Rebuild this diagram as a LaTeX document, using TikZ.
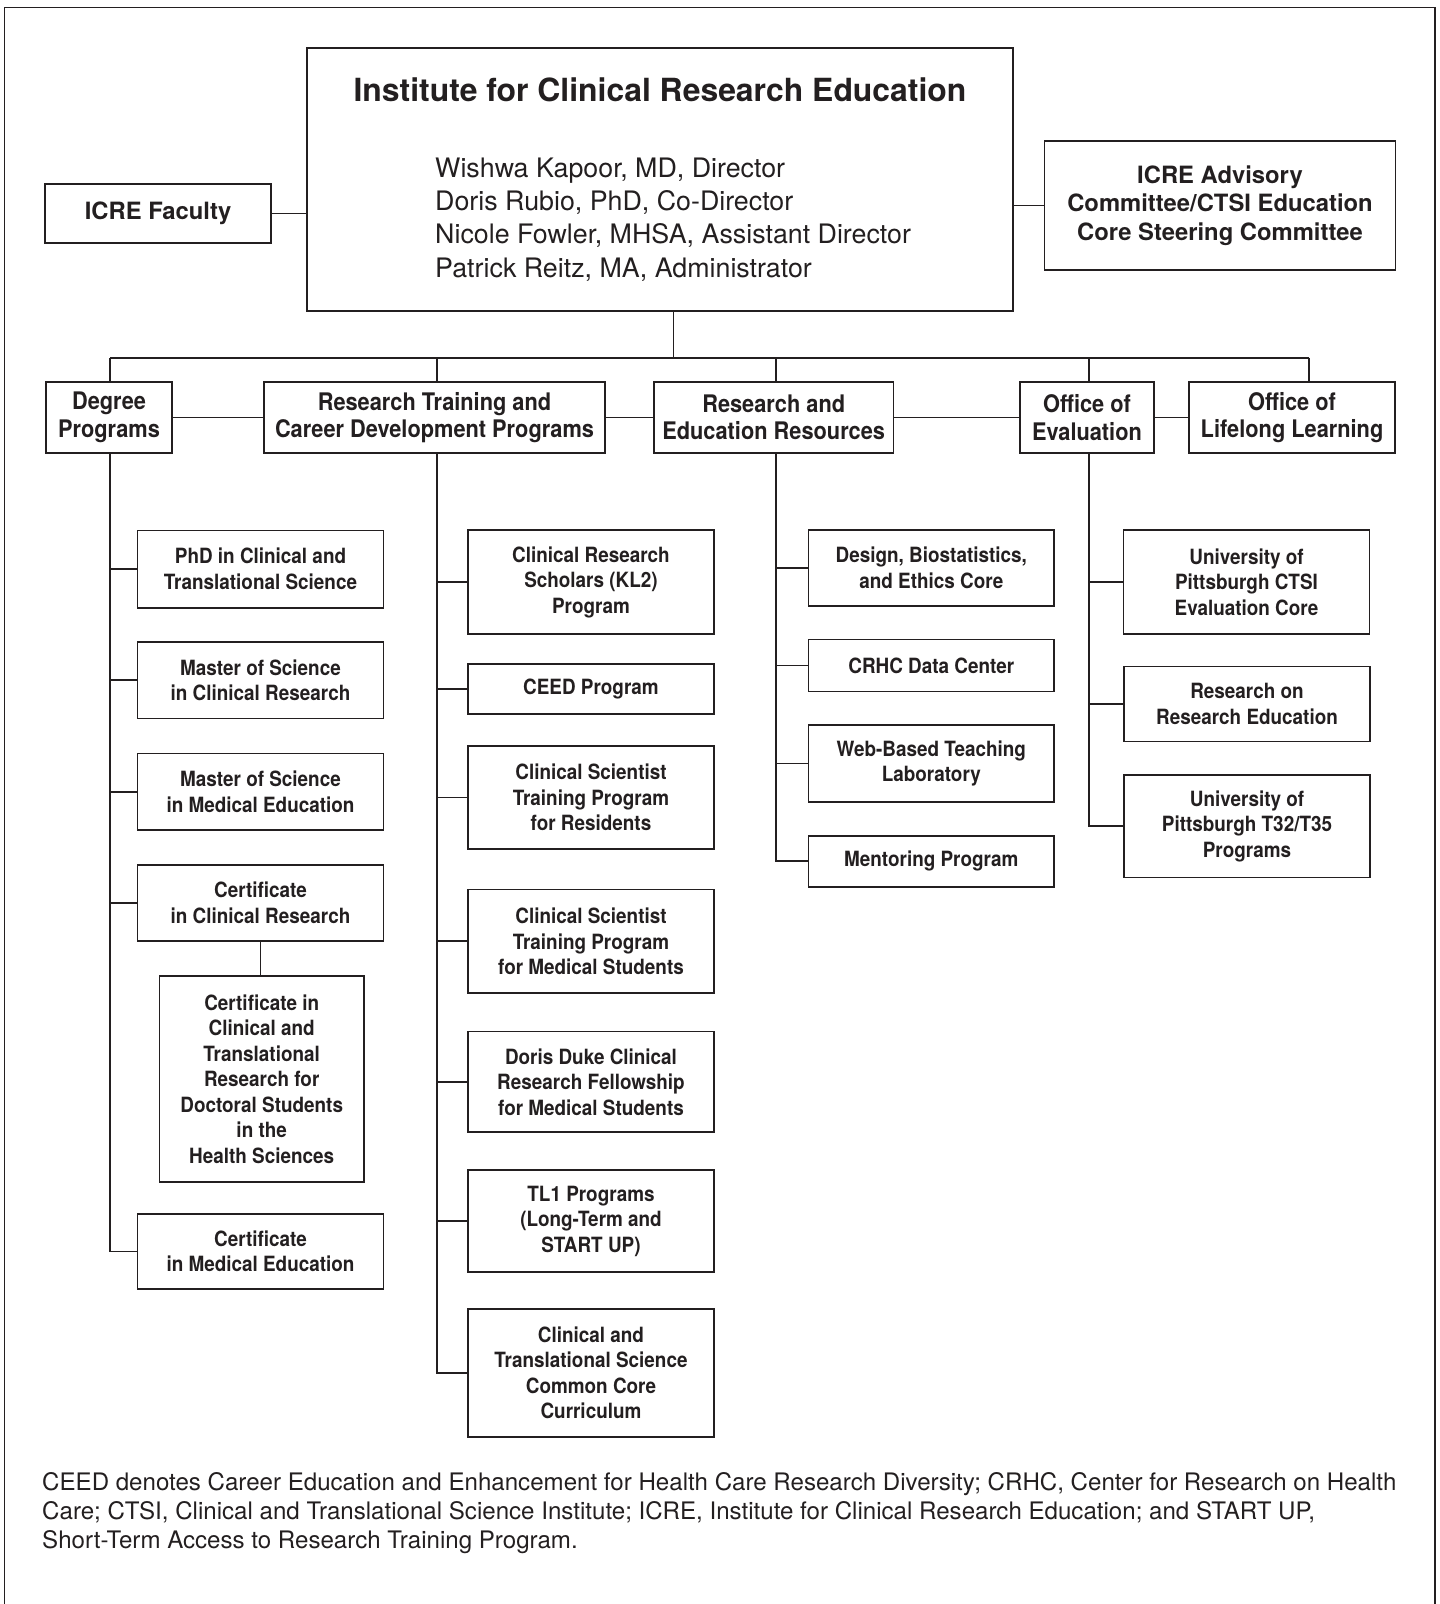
\documentclass[tikz,border=0pt]{standalone}
\usepackage{fontspec}
\setmainfont{TeX Gyre Heros}
\newfontfamily\condf[FakeStretch=0.9]{TeX Gyre Heros}
\definecolor{ink}{RGB}{35,31,32}
\begin{document}
\begin{tikzpicture}[x=1pt,y=-1pt,
  every node/.style={text=ink},
  box/.style={draw=ink, line width=1.5pt, inner sep=0pt, align=center,
    font=\condf\bfseries\fontsize{21}{25.5}\selectfont},
  boxtwo/.style={box, font=\condf\bfseries\fontsize{24.2}{27.5}\selectfont},
  boxwide/.style={box, font=\bfseries\fontsize{23.8}{28.5}\selectfont},
  conn/.style={draw=ink, line width=1.8pt},
]
\useasboundingbox (0,0) rectangle (1440,1604);
% frame
\draw[ink, line width=1.4pt] (4.6,1604) -- (4.6,7.5) -- (1435,7.5) -- (1435,1604);

% top level
\node[draw=ink, line width=1.5pt, minimum width=706pt, minimum height=263pt, inner sep=0pt] (main) at (660,179.4) {};
\node[font=\bfseries\fontsize{31.9}{38}\selectfont, inner sep=0pt] (title) at (660,90) {Institute for Clinical Research Education};
\node[anchor=west, align=left, inner sep=0pt, font=\fontsize{26.8}{33.3}\selectfont] (names) at (435,219.5)
  {Wishwa Kapoor, MD, Director\\Doris Rubio, PhD, Co-Director\\Nicole Fowler, MHSA, Assistant Director\\Patrick Reitz, MA, Administrator};
\node[boxwide, minimum width=226pt, minimum height=59pt] (fac) at (158,213.5) {ICRE Faculty};
\node[boxwide, minimum width=351pt, minimum height=129pt] (adv) at (1220,205.5) {ICRE Advisory\\Committee/CTSI Education\\Core Steering Committee};
\draw[conn] (fac.east) -- (fac.east -| main.west);
\draw[conn] (adv.west -| main.east) -- (adv.west);

% second row
\node[boxtwo, minimum width=126pt, minimum height=71.3pt] (deg) at (109,417.4) {Degree\\Programs};
\node[boxtwo, minimum width=341pt, minimum height=71.3pt] (rt) at (434.5,417.4) {Research Training and\\Career Development Programs};
\node[boxtwo, minimum width=239.5pt, minimum height=71.3pt] (re) at (773.7,417.4) {Research and\\Education Resources};
\node[boxtwo, minimum width=134pt, minimum height=71.3pt] (ev) at (1087,417.4) {Office of\\Evaluation};
\node[boxtwo, minimum width=206pt, minimum height=71.3pt] (ll) at (1292,417.4) {Office of\\Lifelong Learning};

\coordinate (bus) at (673.5,357.7);
\coordinate (cD) at (110,0);
\coordinate (cR) at (437,0);
\coordinate (cE) at (776,0);
\coordinate (cV) at (1089,0);
\coordinate (cL) at (1309,0);
\draw[conn] (bus |- main.south) -- (bus);
\draw[conn] (cD |- bus) -- (cL |- bus);
\foreach \c/\n in {cD/deg, cR/rt, cE/re, cV/ev, cL/ll}
  \draw[conn] (\c |- bus) -- (\c |- \n.north);
\draw[conn] (deg.east) -- (rt.west);
\draw[conn] (rt.east) -- (re.west);
\draw[conn] (re.east) -- (ev.west);
\draw[conn] (ev.east) -- (ll.west);

% degree programs
\node[box, minimum width=245.7pt, minimum height=77.5pt] (phd) at (260.5,569) {PhD in Clinical and\\Translational Science};
\node[box, minimum width=245.7pt, minimum height=76.6pt] (mscr) at (260.5,680.3) {Master of Science\\in Clinical Research};
\node[box, minimum width=245.7pt, minimum height=76.4pt] (msme) at (260.5,791.8) {Master of Science\\in Medical Education};
\node[box, minimum width=245.7pt, minimum height=76pt] (certcr) at (260.5,903) {Certificate\\in Clinical Research};
\node[box, minimum width=204.7pt, minimum height=206pt] (certct) at (261.7,1079) {Certificate in\\Clinical and\\Translational\\Research for\\Doctoral Students\\in the\\Health Sciences};
\node[box, minimum width=245.7pt, minimum height=75pt] (certme) at (260.5,1251.5) {Certificate\\in Medical Education};
\draw[conn] (cD |- deg.south) |- (certme.west);
\foreach \n in {phd, mscr, msme, certcr}
  \draw[conn] (cD |- \n.west) -- (\n.west);
\draw[conn] (certcr.south) -- (certcr.south |- certct.north);

% research training
\node[box, minimum width=246pt, minimum height=104pt] (kl2) at (591,582) {Clinical Research\\Scholars (KL2)\\Program};
\node[box, minimum width=246pt, minimum height=50pt] (ceed) at (591,689) {CEED Program};
\node[box, minimum width=246pt, minimum height=103pt] (cstr) at (591,797.5) {Clinical Scientist\\Training Program\\for Residents};
\node[box, minimum width=246pt, minimum height=103.4pt] (cstm) at (591,941.3) {Clinical Scientist\\Training Program\\for Medical Students};
\node[box, minimum width=246pt, minimum height=100.5pt] (ddcr) at (591,1081.8) {Doris Duke Clinical\\Research Fellowship\\for Medical Students};
\node[box, minimum width=246pt, minimum height=102pt] (tl1) at (591,1221) {TL1 Programs\\(Long-Term and\\START UP)};
\node[box, minimum width=246pt, minimum height=128pt] (ctsc) at (591,1373) {Clinical and\\Translational Science\\Common Core\\Curriculum};
\draw[conn] (cR |- rt.south) |- (ctsc.west);
\foreach \n in {kl2, ceed, cstr, cstm, ddcr, tl1}
  \draw[conn] (cR |- \n.west) -- (\n.west);

% resources
\node[box, minimum width=245.4pt, minimum height=75.7pt] (dbe) at (931.3,567.9) {Design, Biostatistics,\\and Ethics Core};
\node[box, minimum width=245.4pt, minimum height=51.8pt] (crhc) at (931.3,665.5) {CRHC Data Center};
\node[box, minimum width=245.4pt, minimum height=77pt] (web) at (931.3,763.5) {Web-Based Teaching\\Laboratory};
\node[box, minimum width=245.4pt, minimum height=51pt] (ment) at (931.3,861.3) {Mentoring Program};
\draw[conn] (cE |- re.south) |- (ment.west);
\foreach \n in {dbe, crhc, web}
  \draw[conn] (cE |- \n.west) -- (\n.west);

% evaluation
\node[box, minimum width=246pt, minimum height=104pt] (ctsi) at (1246.5,582) {University of\\Pittsburgh CTSI\\Evaluation Core};
\node[box, minimum width=246pt, minimum height=75.4pt] (rore) at (1247,704) {Research on\\Research Education};
\node[box, minimum width=246pt, minimum height=102.5pt] (t32) at (1247,826) {University of\\Pittsburgh T32/T35\\Programs};
\draw[conn] (cV |- ev.south) |- (t32.west);
\foreach \n in {ctsi, rore}
  \draw[conn] (cV |- \n.west) -- (\n.west);

% footnote
\node[anchor=west, align=left, inner sep=0pt, font=\fontsize{24.1}{29}\selectfont] (note) at (42,1513.5)
  {CEED denotes Career Education and Enhancement for Health Care Research Diversity; CRHC, Center for Research on Health\\
   Care; CTSI, Clinical and Translational Science Institute; ICRE, Institute for Clinical Research Education; and START UP,\\
   Short-Term Access to Research Training Program.};
\end{tikzpicture}
\end{document}
